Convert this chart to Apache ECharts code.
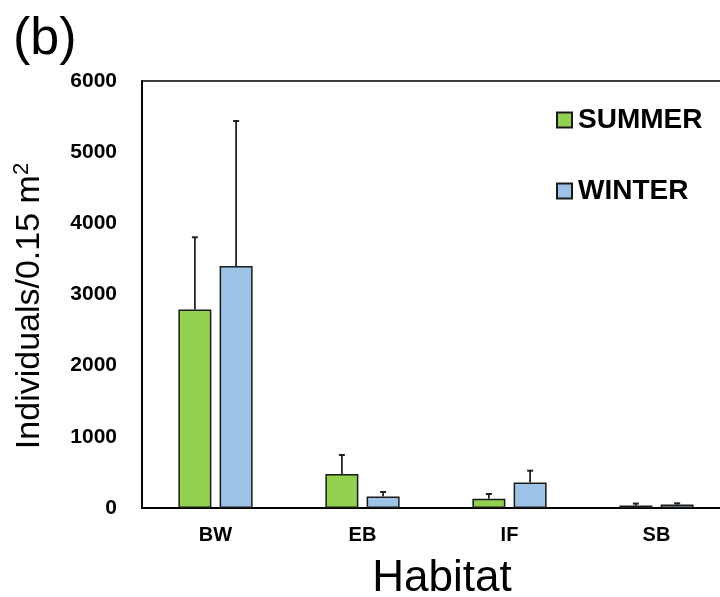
<!DOCTYPE html>
<html>
<head>
<meta charset="utf-8">
<script src="https://cdn.jsdelivr.net/npm/echarts@6/dist/echarts.min.js"></script>
<style>
html,body{margin:0;padding:0;background:#fff;}
#chart{width:720px;height:597px;}
</style>
</head>
<body>
<div id="chart"></div>
<script>
var categories = ['BW', 'EB', 'IF', 'SB'];
var summerMean = [2790, 478, 131, 34];
var summerErr = [1014, 267, 66, 28];
var winterMean = [3400, 163, 360, 48];
var winterErr = [2038, 62, 164, 18];
var yTicks = [0, 1000, 2000, 3000, 4000, 5000, 6000];

var FONT = "'Liberation Sans', Arial, sans-serif";
var BAR_W = 33;
var BAR_GAP = 0.25;

function errSeries(name, means, errs, dir) {
  var data = means.map(function (m, i) { return [i, m, m + errs[i]]; });
  return {
    type: 'custom',
    name: name + ' err',
    z: 10,
    silent: true,
    renderItem: function (params, api) {
      var i = api.value(0);
      var lo = api.coord([i, api.value(1)]);
      var hi = api.coord([i, api.value(2)]);
      var off = dir * BAR_W * (1 + BAR_GAP) / 2;
      var x = lo[0] + off;
      var cap = 3;
      return {
        type: 'group',
        children: [
          { type: 'line', shape: { x1: x, y1: lo[1], x2: x, y2: hi[1] },
            style: { stroke: '#222', lineWidth: 1.8 } },
          { type: 'line', shape: { x1: x - cap, y1: hi[1], x2: x + cap, y2: hi[1] },
            style: { stroke: '#222', lineWidth: 2 } }
        ]
      };
    },
    encode: { x: 0, y: [1, 2] },
    data: data
  };
}

var chart = echarts.init(document.getElementById('chart'));
chart.setOption({
  animation: false,
  backgroundColor: '#fff',
  textStyle: { fontFamily: FONT },
  title: {
    text: '(b)', left: 8, top: 9,
    textStyle: { fontSize: 52, fontWeight: 'normal', color: '#000', fontFamily: FONT }
  },
  graphic: [{
    type: 'text', x: 30, y: 306, rotation: Math.PI / 2,
    style: {
      text: 'Individuals/0.15 m{sup|2}',
      fontSize: 34, fill: '#000', fontFamily: FONT,
      align: 'center', verticalAlign: 'middle',
      rich: { sup: { fontSize: 22, fill: '#000', fontFamily: FONT, padding: [0, 0, 16, 0], verticalAlign: 'top' } }
    }
  }],
  legend: {
    orient: 'vertical', left: 556, top: 106, padding: 0,
    itemWidth: 15, itemHeight: 15, itemGap: 43, icon: 'rect',
    textStyle: { fontSize: 28, fontWeight: 'bold', color: '#000', fontFamily: FONT, lineHeight: 28, padding: [0, 0, 0, 1] },
    data: ['SUMMER', 'WINTER']
  },
  grid: { left: 142, right: -10, top: 81, bottom: 89, show: true, borderColor: '#000', borderWidth: 1.5, containLabel: false, outerBoundsMode: 'none' },
  xAxis: {
    type: 'category', data: categories,
    name: 'Habitat', nameLocation: 'middle', nameGap: 49,
    nameTextStyle: { fontSize: 44, color: '#000', fontFamily: FONT, padding: [0, 0, 0, 12] },
    axisLine: { lineStyle: { color: '#000', width: 1.8 } },
    axisTick: { show: false },
    axisLabel: { fontSize: 20, fontWeight: 'bold', color: '#000', margin: 17, fontFamily: FONT }
  },
  yAxis: {
    type: 'value', min: 0, max: 6000, interval: 1000,
    axisLine: { show: true, lineStyle: { color: '#000', width: 1.8 } },
    axisTick: { show: false },
    splitLine: { show: false },
    axisLabel: { fontSize: 21, fontWeight: 'bold', color: '#000', margin: 25, fontFamily: FONT,
      formatter: function (v) { return yTicks.indexOf(v) >= 0 ? String(v) : ''; } }
  },
  series: [
    { name: 'SUMMER', type: 'bar', data: summerMean, barWidth: BAR_W, barGap: (BAR_GAP * 100) + '%',
      itemStyle: { color: '#92D050', borderColor: '#1a1a1a', borderWidth: 1.5 } },
    { name: 'WINTER', type: 'bar', data: winterMean, barWidth: BAR_W, barGap: (BAR_GAP * 100) + '%',
      itemStyle: { color: '#9DC3E6', borderColor: '#1a1a1a', borderWidth: 1.5 } },
    errSeries('SUMMER', summerMean, summerErr, -1),
    errSeries('WINTER', winterMean, winterErr, 1)
  ]
});
</script>
</body>
</html>
